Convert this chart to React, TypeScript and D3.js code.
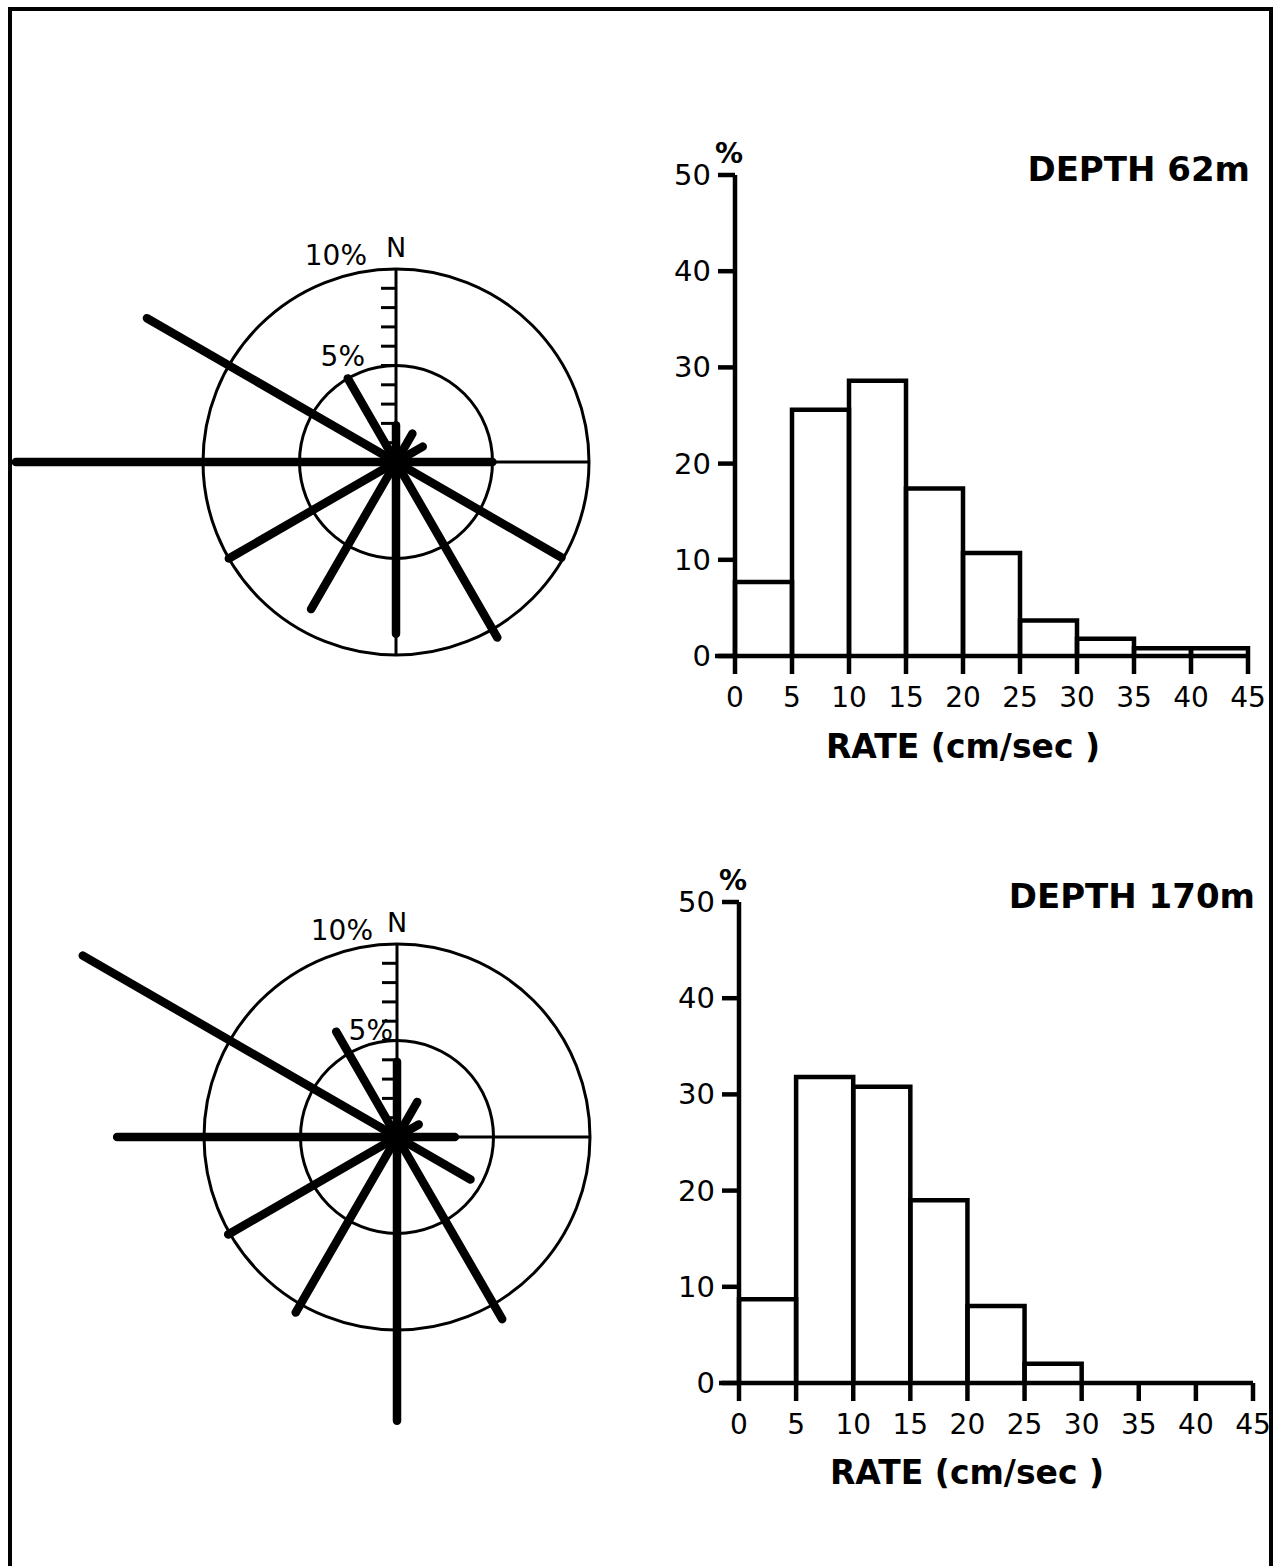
import React from 'react';
import * as d3 from 'd3';

// compass bearings of the rose rays (degrees clockwise from N)
const DIRECTIONS = [0, 30, 60, 90, 120, 150, 180, 210, 240, 270, 300, 330];
// percent of observations per direction
const ROSE_62 = [1.9, 1.7, 1.6, 5.0, 9.9, 10.5, 8.9, 8.8, 10.0, 19.7, 14.9, 5.0];
const ROSE_170 = [3.9, 2.1, 1.3, 3.0, 4.4, 10.9, 14.7, 10.5, 10.1, 14.5, 18.8, 6.3];

// histogram bins (lower edge, cm/sec) and percent frequency
const RATE_BINS = [0, 5, 10, 15, 20, 25, 30, 35, 40];
const HIST_62 = [7.7, 25.6, 28.6, 17.4, 10.7, 3.7, 1.8, 0.8, 0.8];
const HIST_170 = [8.7, 31.8, 30.8, 19.0, 8.0, 2.0, 0, 0, 0];
const RATE_TICKS = [0, 5, 10, 15, 20, 25, 30, 35, 40, 45];
const PCT_TICKS = [0, 10, 20, 30, 40, 50];
const ROSE_TICKS = [1, 2, 3, 4, 5, 6, 7, 8, 9];

const FONT = '"DejaVu Sans", Verdana, sans-serif';

function Rose({cx, cy, values, tenX, tenY, fiveX, fiveY}) {
  const r = d3.scaleLinear().domain([0, 10]).range([0, 193]);
  const R = r(10);
  return (
    <g transform={`translate(${cx},${cy})`}>
      <circle r={R} fill="none" stroke="#000" strokeWidth={3} />
      <circle r={r(5)} fill="none" stroke="#000" strokeWidth={3} />
      <line x1={-R} x2={R} y1={0} y2={0} stroke="#000" strokeWidth={3} />
      <line x1={0} x2={0} y1={-R} y2={R} stroke="#000" strokeWidth={3} />
      {ROSE_TICKS.map(t => (
        <line key={t} x1={-15} x2={0} y1={-r(t)} y2={-r(t)} stroke="#000" strokeWidth={3} />
      ))}
      {values.map((v, i) => {
        const [x, y] = d3.pointRadial(DIRECTIONS[i] * Math.PI / 180, r(v));
        return (
          <line key={i} x1={0} y1={0} x2={x} y2={y} stroke="#000"
                strokeWidth={8.5} strokeLinecap="round" />
        );
      })}
      <circle r={10} fill="#000" />
      <text x={tenX} y={tenY} fontSize={28} textAnchor="end" fontFamily={FONT}>10%</text>
      <text x={0} y={-R - 12} fontSize={27} textAnchor="middle" fontFamily={FONT}>N</text>
      <text x={fiveX} y={fiveY} fontSize={28} textAnchor="end" fontFamily={FONT}>5%</text>
    </g>
  );
}

function Histogram({x0, x1, y0, y1, values, title, titleY, labelY}) {
  const x = d3.scaleLinear().domain([0, 45]).range([x0, x1]);
  const y = d3.scaleLinear().domain([0, 50]).range([y0, y1]);
  const bw = 5;
  return (
    <g fontFamily={FONT}>
      {values.map((v, i) => {
        const a = RATE_BINS[i];
        if (v <= 0) return null;
        const p = d3.path();
        p.moveTo(x(a), y(0));
        p.lineTo(x(a), y(v));
        p.lineTo(x(a + bw), y(v));
        p.lineTo(x(a + bw), y(0));
        return <path key={i} d={p.toString()} fill="none" stroke="#000" strokeWidth={4.5} />;
      })}
      <line x1={x0 - 20} x2={x1} y1={y(0)} y2={y(0)} stroke="#000" strokeWidth={4.5} />
      <line x1={x0} x2={x0} y1={y(0)} y2={y(50)} stroke="#000" strokeWidth={4.5} />
      {PCT_TICKS.map(t => (
        <g key={t}>
          <line x1={x0 - 17} x2={x0} y1={y(t)} y2={y(t)} stroke="#000" strokeWidth={4.5} />
          <text x={x0 - 24} y={y(t) + 10} fontSize={29} textAnchor="end">{t}</text>
        </g>
      ))}
      <text x={x0 - 6} y={y(50) - 12} fontSize={28} fontWeight="bold" textAnchor="middle">%</text>
      {RATE_TICKS.map(t => (
        <g key={t}>
          <line x1={x(t)} x2={x(t)} y1={y(0)} y2={y(0) + 18} stroke="#000" strokeWidth={4.5} />
          <text x={x(t)} y={y(0) + 51} fontSize={28} textAnchor="middle">{t}</text>
        </g>
      ))}
      <text x={x0 + 228} y={labelY} fontSize={33} fontWeight="bold" textAnchor="middle">RATE (cm/sec )</text>
      <text x={x1 + 2} y={titleY} fontSize={34} fontWeight="bold" textAnchor="end">{title}</text>
    </g>
  );
}

export default function App() {
  return (
    <svg width={1277} height={1566} style={{position: 'absolute', left: 0, top: 0, background: '#fff'}}>
      <rect width={1277} height={1566} fill="#fff" />
      <path d="M10,1570 V9 H1271 V1570" fill="none" stroke="#000" strokeWidth={4} />
      <Rose cx={396} cy={462} values={ROSE_62} tenX={-29} tenY={-197} fiveX={-31} fiveY={-96} />
      <Rose cx={397} cy={1137} values={ROSE_170} tenX={-24} tenY={-197} fiveX={-4} fiveY={-97} />
      <Histogram x0={735} x1={1248} y0={656} y1={175} values={HIST_62}
                 title="DEPTH 62m" titleY={181} labelY={758} />
      <Histogram x0={739} x1={1253} y0={1383} y1={902} values={HIST_170}
                 title="DEPTH 170m" titleY={908} labelY={1484} />
    </svg>
  );
}
